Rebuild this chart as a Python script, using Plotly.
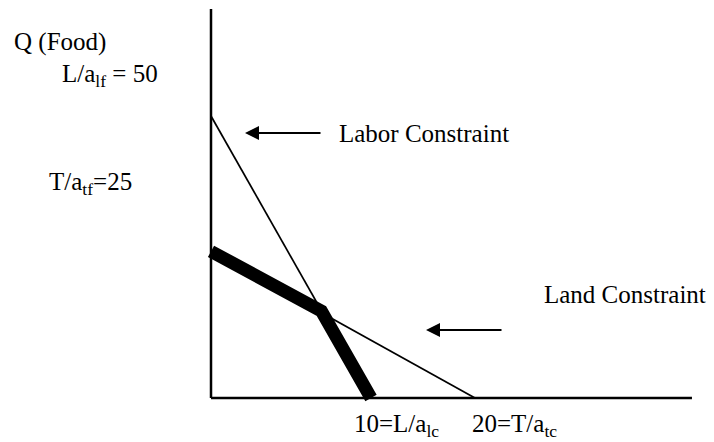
import plotly.graph_objects as go

# ---- data (axis units) ----
labor_x = [0, 10]
labor_y = [50, 0]
land_x = [0, 16.5]
land_y = [26, 0]
ppf_x = [0, 6.9, 10]
ppf_y = [26, 15.4, 0]
axis_x_end = 30.06
axis_y_end = 68.97

labels_left = ["Q (Food)", "L/a<sub>lf</sub> = 50", "T/a<sub>tf</sub>=25"]
labels_bottom = ["10=L/a<sub>lc</sub>", "20=T/a<sub>tc</sub>"]
labels_lines = ["Labor Constraint", "Land Constraint"]

W, H = 714, 442
X0, XS = 211, 16.0      # pixel of x=0, px per unit
Y0, YS = 398, 5.64      # pixel of y=0, px per unit


def px(xp):
    return xp / W


def py(yp):
    return 1 - yp / H


FONT = dict(family="Liberation Serif, Times New Roman, serif", size=25, color="black")

fig = go.Figure()
# axes
fig.add_trace(go.Scatter(x=[0, 0], y=[0, axis_y_end], mode="lines",
                         line=dict(color="black", width=2.5), hoverinfo="skip"))
fig.add_trace(go.Scatter(x=[0, axis_x_end], y=[0, 0], mode="lines",
                         line=dict(color="black", width=2.5), hoverinfo="skip"))
# constraints
fig.add_trace(go.Scatter(x=labor_x, y=labor_y, mode="lines",
                         line=dict(color="black", width=1.7), hoverinfo="skip"))
fig.add_trace(go.Scatter(x=land_x, y=land_y, mode="lines",
                         line=dict(color="black", width=1.7), hoverinfo="skip"))
# production possibility frontier
fig.add_trace(go.Scatter(x=ppf_x, y=ppf_y, mode="lines",
                         line=dict(color="black", width=13), hoverinfo="skip"))

anns = []
text_pos = [
    (labels_left[0], 12, 42),
    (labels_left[1], 60, 75),
    (labels_left[2], 47, 183),
    (labels_lines[0], 337, 133),
    (labels_lines[1], 542, 294),
    (labels_bottom[0], 352, 425),
    (labels_bottom[1], 470, 425),
]
for t, xx, yy in text_pos:
    anns.append(dict(text=t, x=px(xx), y=py(yy), xref="paper", yref="paper",
                     xanchor="left", yanchor="middle", showarrow=False, font=FONT))

# arrows (head, tail) in pixels
for hx, tx, yy in [(245, 322, 133), (426, 503, 330)]:
    anns.append(dict(text="", x=px(hx), y=py(yy), xref="paper", yref="paper",
                     ax=tx - hx, ay=0, axref="pixel", ayref="pixel",
                     showarrow=True, arrowhead=2, arrowsize=1.4, arrowwidth=2,
                     arrowcolor="black"))

fig.update_layout(
    width=W, height=H,
    margin=dict(l=0, r=0, t=0, b=0),
    paper_bgcolor="white", plot_bgcolor="white",
    showlegend=False,
    annotations=anns,
    xaxis=dict(range=[-X0 / XS, (W - X0) / XS], visible=False, fixedrange=True),
    yaxis=dict(range=[-(H - Y0) / YS, Y0 / YS], visible=False, fixedrange=True),
)

fig.write_html("out.html", config={"displayModeBar": False},
               post_script="document.body.style.margin='0';document.body.style.overflow='hidden';")
